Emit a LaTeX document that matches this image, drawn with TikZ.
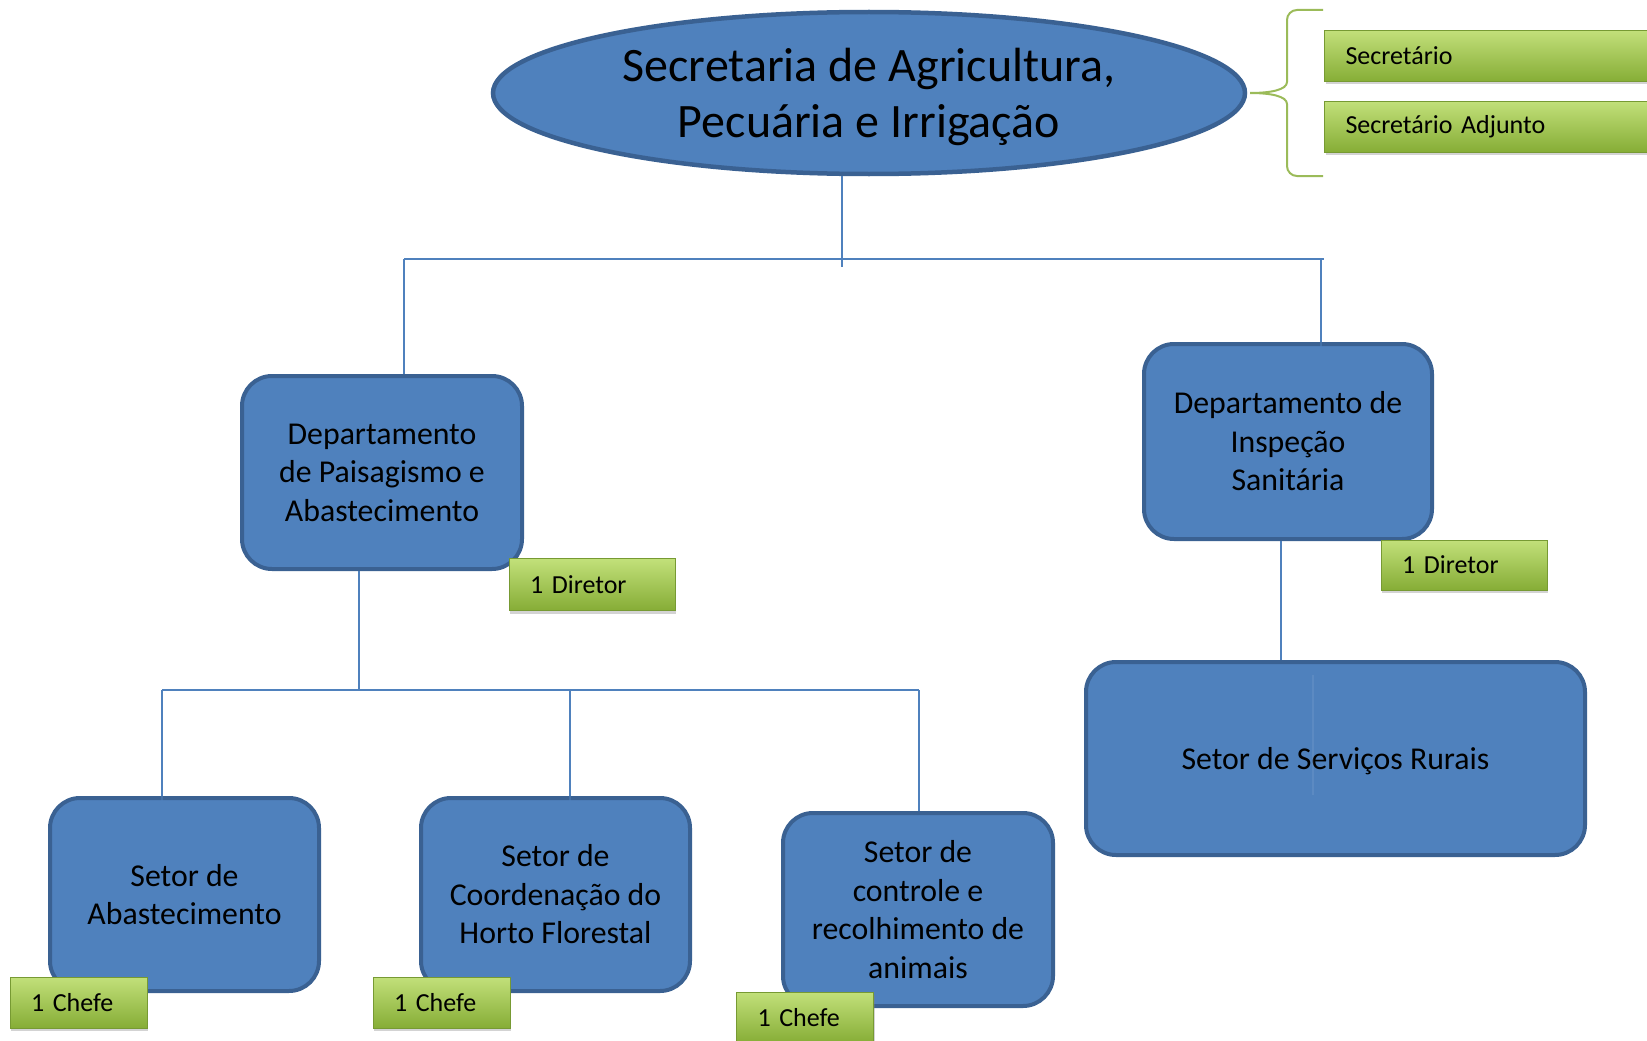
\documentclass[tikz,border=0pt]{standalone}
\usepackage{fontspec}
\setmainfont{Carlito}
\usetikzlibrary{shapes.geometric,shadows}
\definecolor{bfill}{HTML}{4F81BD}
\definecolor{bdraw}{HTML}{3A6192}
\definecolor{gtop}{HTML}{C2E07A}
\definecolor{gmid}{HTML}{A3C94E}
\definecolor{gbot}{HTML}{86AD36}
\definecolor{gdraw}{HTML}{779A33}
\definecolor{bracecol}{HTML}{9BBB59}
\begin{document}
\begin{tikzpicture}[x=1pt,y=-1pt,
  bluebox/.style={draw=bdraw,fill=bfill,line width=4pt,rounded corners=30pt,align=center,inner sep=0pt,font=\fontsize{31.8}{38.5}\selectfont},
  greenbox/.style={draw=gdraw,line width=1pt,top color=gtop,middle color=gmid,bottom color=gbot,align=left,inner xsep=21pt,inner ysep=0pt,minimum height=51pt,font=\fontsize{26}{30}\selectfont,drop shadow={shadow xshift=1pt,shadow yshift=-3pt,opacity=0.35}},
  conn/.style={draw=bfill,line width=2.2pt}]
\useasboundingbox (0,0) rectangle (1647,1041);

\coordinate (j1) at (842,259);
\coordinate (jl) at (404,259);
\coordinate (jr) at (1321,259);
\coordinate (j2) at (359,690);
\coordinate (ja) at (162,690);
\coordinate (jb) at (570,690);
\coordinate (jc) at (919,690);

% title
\node[ellipse,draw=bdraw,fill=bfill,line width=4.5pt,minimum width=752pt,minimum height=162pt,inner sep=0pt] (title) at (869,93) {};
\node[align=center,inner sep=0pt,font=\fontsize{48}{56.5}\selectfont] (titletext) at (869,97) {Secretaria de Agricultura,\\Pecuária e Irrigação};

% departments and sectors
\node[bluebox,minimum width=280pt,minimum height=193pt] (dp) at (382,472.5) {Departamento\\de Paisagismo e\\Abastecimento};
\node[bluebox,minimum width=288pt,minimum height=195pt] (di) at (1288,441.5) {Departamento de\\Inspeção\\Sanitária};
\node[bluebox,minimum width=499pt,minimum height=193pt,text depth=0pt] (sr) at (1335.5,758.5) {Setor de Serviços Rurais};
\node[bluebox,minimum width=269pt,minimum height=193pt] (sa) at (184.5,894.5) {Setor de\\Abastecimento};
\node[bluebox,minimum width=269pt,minimum height=193pt] (sc) at (555.5,894.5) {Setor de\\Coordenação do\\Horto Florestal};
\node[bluebox,minimum width=270pt,minimum height=193pt] (sk) at (918,909.5) {Setor de\\controle e\\recolhimento de\\animais};

% connectors
\draw[conn] (title.south -| j1) -- ([yshift=-8pt]j1);
\draw[conn] (jl) -- (jr |- jl) -- ++(3,0);
\draw[conn] (jl) -- (dp.north -| jl);
\draw[conn] (jr) -- (di.north -| jr);
\draw[conn,opacity=0.5] (di.north -| jr) -- ++(0,30);
\draw[conn] (dp.south -| j2) -- (j2);
\draw[conn] (ja) -- (jc);
\draw[conn] (ja) -- (sa.north -| ja);
\draw[conn] (jb) -- (sc.north -| jb);
\draw[conn] (jc) -- (sk.north -| jc);
\draw[conn] (di.south -| 1281,0) -- (sr.north -| 1281,0);
\draw[conn,opacity=0.5] (sa.north -| ja) -- ++(0,16);
\draw[conn,opacity=0.5] (sc.north -| jb) -- ++(0,12);
\draw[draw=white,line width=1.5pt,opacity=0.08] (1313,675) -- (1313,795);

% brace
\draw[bracecol,line width=2pt] (1323,10) -- (1297,10) to[out=180,in=90] (1287,20) -- (1287,82)
  .. controls (1287,90) and (1270,93) .. (1250,93)
  .. controls (1270,93) and (1287,96) .. (1287,104) -- (1287,166) to[out=270,in=180] (1297,176) -- (1323,176);

% green boxes
\node[greenbox,anchor=west,text width=320pt] (g1) at (1324,56) {Secretário};
\node[greenbox,anchor=west,text width=320pt] (g2) at (1324,126.5) {Secretário Adjunto};
\node[greenbox,text width=124pt,minimum height=52pt] (d1) at (592,584.5) {1 Diretor};
\node[greenbox,text width=124pt,minimum height=50pt] (d2) at (1464,565) {1 Diretor};
\node[greenbox,text width=95pt] (c1) at (78.5,1002.5) {1 Chefe};
\node[greenbox,text width=95pt] (c2) at (441.5,1002.5) {1 Chefe};
\node[greenbox,text width=95pt] (c3) at (805,1017.5) {1 Chefe};
\end{tikzpicture}
\end{document}
